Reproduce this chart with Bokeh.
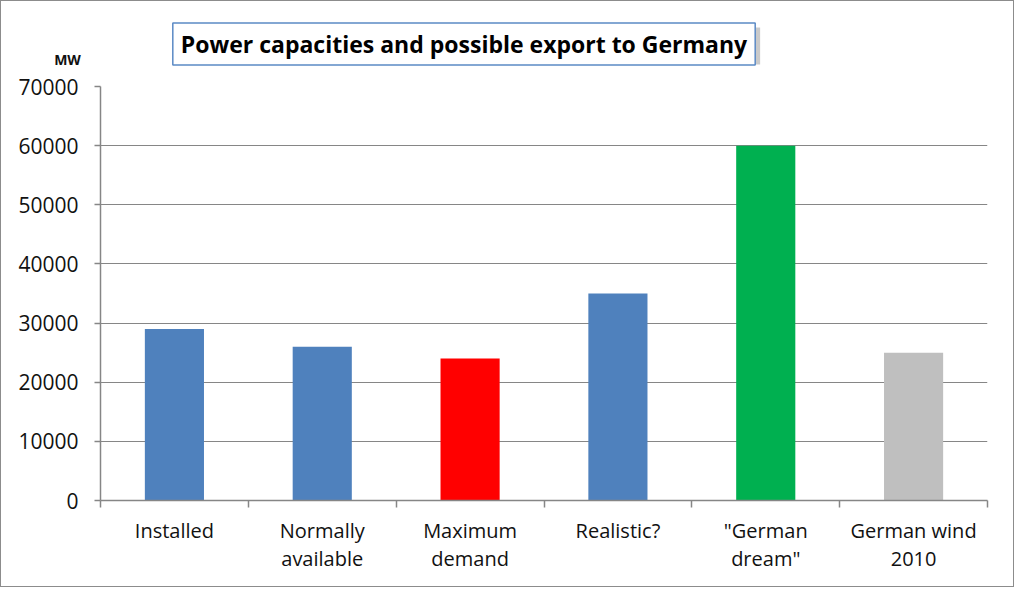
from bokeh.plotting import figure
from bokeh.models import Range1d, FixedTicker, NumeralTickFormatter, Label
from bokeh.embed import file_html
from bokeh.resources import INLINE

# ---- data ----
categories = ["Installed", "Normally\navailable", "Maximum\ndemand", "Realistic?",
              "\"German\ndream\"", "German wind\n2010"]
values = [29000, 26000, 24000, 35000, 60000, 25000]
bar_colors = ["#4F81BD", "#4F81BD", "#FF0000", "#4F81BD", "#00B050", "#BFBFBF"]
y_ticks = [0, 10000, 20000, 30000, 40000, 50000, 60000, 70000]
title_text = "Power capacities and possible export to Germany"
unit_text = "MW"

FONT = "Open Sans"
GRID = "#868686"

n = len(categories)
x_pos = [i + 0.5 for i in range(n)]

# frame geometry (figure pixels)
FL, FR, FT, FB = 99, 28, 85, 88
W, H = 1014, 587

p = figure(width=W, height=H,
           x_range=Range1d(0, n), y_range=Range1d(0, y_ticks[-1]),
           output_backend="svg", toolbar_location=None,
           min_border_left=FL, min_border_right=FR,
           min_border_top=FT, min_border_bottom=FB)
p.styles = {"border": "1px solid #8c8c8c"}
p.outline_line_color = None
p.background_fill_color = "white"
p.border_fill_color = "white"

p.vbar(x=x_pos, top=values, width=0.4, color=bar_colors, line_color=None)

# x axis
xa = p.xaxis[0]
xa.ticker = FixedTicker(ticks=x_pos, minor_ticks=list(range(n + 1)))
xa.major_label_overrides = {x: c for x, c in zip(x_pos, categories)}
xa.major_tick_line_color = None
xa.major_tick_out = 0
xa.major_tick_in = 0
xa.minor_tick_line_color = GRID
xa.minor_tick_out = 7
xa.minor_tick_in = 0
xa.axis_line_color = GRID
xa.axis_line_width = 1.5
xa.minor_tick_line_width = 1.5
xa.major_label_standoff = 9
xa.major_label_text_font = FONT
xa.major_label_text_font_size = "20px"
xa.major_label_text_color = "#111111"
xa.major_label_text_line_height = 1.07

# y axis
ya = p.yaxis[0]
ya.ticker = FixedTicker(ticks=y_ticks)
ya.formatter = NumeralTickFormatter(format="0")
ya.axis_line_color = GRID
ya.axis_line_width = 1.5
ya.major_tick_line_color = GRID
ya.major_tick_line_width = 1.5
ya.major_tick_out = 6
ya.major_tick_in = 0
ya.minor_tick_line_color = None
ya.major_label_standoff = 16
ya.major_label_text_font = FONT
ya.major_label_text_font_size = "21px"
ya.major_label_text_color = "#111111"

p.xgrid.grid_line_color = None
p.ygrid.ticker = FixedTicker(ticks=y_ticks)
p.ygrid.grid_line_color = GRID
p.ygrid.grid_line_width = 1.2

# title box geometry (canvas pixels)
BX, BY, BW, BH = 170, 21, 583, 41
SHADOW = "#8a8a8a"

# shadow: a small dot label (hidden under the title box) with padded background
p.add_layout(Label(x=BX + 4, y=BY + 4, x_units="canvas", y_units="canvas", text=".",
                   text_color=SHADOW, text_font=FONT, text_font_size="10px",
                   text_align="left", text_baseline="top",
                   padding=(0, 581, 0, 29),
                   background_fill_color=SHADOW, background_fill_alpha=0.45,
                   border_line_color=None), "above")
# title in a bordered white box
p.add_layout(Label(x=BX + BW / 2, y=BY + BH / 2, x_units="canvas", y_units="canvas",
                   text=title_text, text_font=FONT, text_font_style="bold",
                   text_font_size="23px", text_align="center",
                   text_baseline="middle", text_color="#000000",
                   padding=(8, 8, 5, 5),
                   background_fill_color="#ffffff", background_fill_alpha=1.0,
                   border_line_color="#5B8AC5", border_line_width=1.5), "above")
# unit label (placed in the narrow right panel so it does not enlarge the top panel)
p.add_layout(Label(x=65, y=57, x_units="canvas", y_units="canvas",
                   text=unit_text, text_font=FONT, text_font_style="bold",
                   text_font_size="14px", text_align="center",
                   text_baseline="middle", text_color="#111111"), "right")

open("out.html", "w").write(file_html(p, INLINE))
